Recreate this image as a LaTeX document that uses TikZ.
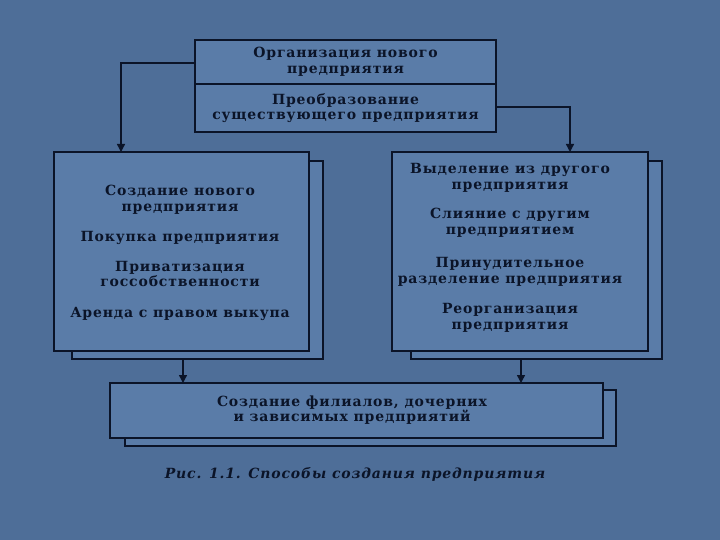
\documentclass[tikz,border=0pt]{standalone}
\usepackage{fontspec}
\setmainfont{DejaVu Serif}[LetterSpace=6]
\usetikzlibrary{arrows.meta}
\definecolor{bg}{HTML}{4E6E98}
\definecolor{boxfill}{HTML}{5A7CA8}
\definecolor{ink}{HTML}{0B1428}
\tikzset{
  frame/.style={draw=ink, line width=1.6pt, fill=boxfill},
  shadowbox/.style={draw=ink, line width=1.6pt, fill=boxfill},
  lbl/.style={text=ink, font=\bfseries\fontsize{14}{15.5}\selectfont, align=center, inner sep=0pt},
  conn/.style={draw=ink, line width=1.4pt},
  arr/.style={conn, -{Triangle[length=8pt,width=8pt]}},
}
\begin{document}
\begin{tikzpicture}[x=1pt,y=-1pt]
\fill[bg] (0,0) rectangle (720,540);
\useasboundingbox (0,0) rectangle (720,540);
% top box
\draw[frame] (195,40) rectangle (496,84);
\node[lbl] (t1) at (345.5,62) {Организация нового\\предприятия};
\draw[frame] (195,84) rectangle (496,132);
\node[lbl] (t2) at (345.5,108) {Преобразование\\существующего предприятия};
\coordinate (t1w) at (195,63);
\coordinate (t2e) at (496,107);
% left box
\draw[shadowbox] (72,161) rectangle (323,359);
\draw[frame] (54,152) rectangle (309,351);
\node[lbl] (L) at (180,253) {Создание нового\\предприятия\\[15pt]Покупка предприятия\\[14pt]Приватизация\\госсобственности\\[15pt]Аренда с правом выкупа};
% right box
\draw[shadowbox] (411,161) rectangle (662,359);
\draw[frame] (392,152) rectangle (648,351);
\node[lbl] (R) at (510,248) {Выделение из другого\\предприятия\\[14pt]Слияние с другим\\предприятием\\[18pt]Принудительное\\разделение предприятия\\[15pt]Реорганизация\\предприятия};
% bottom box
\draw[shadowbox] (125,390) rectangle (616,446);
\draw[frame] (110,383) rectangle (603,438);
\node[lbl] (B) at (352,410) {Создание филиалов, дочерних\\и зависимых предприятий};
% caption
\node[text=ink, font=\bfseries\itshape\fontsize{14}{16}\selectfont, inner sep=0pt] (cap) at (355,474) {Рис. 1.1. Способы создания предприятия};
% connectors
\coordinate (Ltop) at (121,152);
\coordinate (Rtop) at (570,152);
\draw[arr] (t1w) -- (121,63) -- (Ltop);
\draw[arr] (t2e) -- (570,107) -- (Rtop);
\coordinate (Lbot) at (183,359);
\coordinate (Rbot) at (521,359);
\draw[arr] (Lbot) -- (183,383);
\draw[arr] (Rbot) -- (521,383);
\end{tikzpicture}
\end{document}
